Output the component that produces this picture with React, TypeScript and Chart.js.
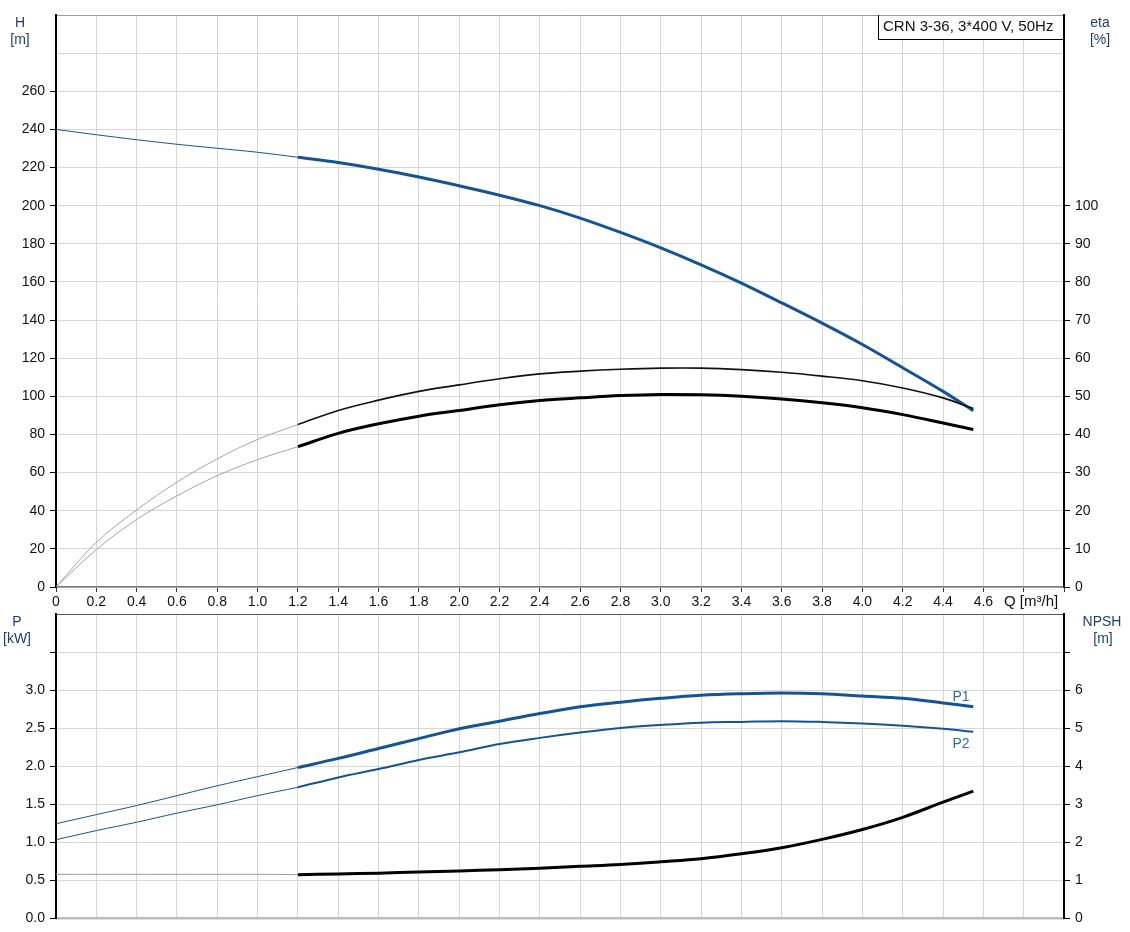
import React, { useEffect, useRef } from 'react';
import { Chart, registerables } from 'chart.js';

Chart.register(...registerables);

// ---------- data ----------
const Q_LOW = [0, 0.2, 0.4, 0.6, 0.8, 1.0, 1.2];
const Q_MAIN = [1.2, 1.4, 1.6, 1.8, 2.0, 2.2, 2.4, 2.6, 2.8, 3.0, 3.2, 3.4, 3.6, 3.8, 4.0, 4.2, 4.4, 4.55];

const H_LOW = [240, 237.2, 234.6, 232.2, 230.1, 228, 225.4];
const H_MAIN = [225.4, 222.6, 219.1, 215.0, 210.4, 205.5, 200, 193.5, 186, 177.9, 169, 159.4, 149, 138.4, 127.2, 115, 102.6, 92.5];

const ETA1_LOW = [0, 11.7, 20.2, 27.5, 33.6, 38.7, 42.6];
const ETA1_MAIN = [42.6, 46.3, 49.0, 51.3, 53.0, 54.6, 55.9, 56.6, 57.1, 57.4, 57.4, 57.0, 56.3, 55.3, 54.1, 52.2, 49.6, 46.8];

const ETA2_LOW = [0, 9.8, 17.7, 23.9, 29.2, 33.4, 36.8];
const ETA2_MAIN = [36.8, 40.3, 42.8, 44.8, 46.3, 47.8, 48.9, 49.6, 50.2, 50.5, 50.4, 50.0, 49.3, 48.3, 47.0, 45.2, 43.0, 41.3];

const P1_LOW = [1.24, 1.36, 1.48, 1.61, 1.74, 1.86, 1.98];
const P1_MAIN = [1.98, 2.10, 2.23, 2.36, 2.49, 2.59, 2.69, 2.78, 2.84, 2.89, 2.93, 2.95, 2.96, 2.95, 2.92, 2.89, 2.83, 2.78];

const P2_LOW = [1.03, 1.15, 1.26, 1.38, 1.49, 1.61, 1.72];
const P2_MAIN = [1.72, 1.85, 1.96, 2.08, 2.18, 2.29, 2.37, 2.44, 2.50, 2.54, 2.57, 2.58, 2.59, 2.58, 2.56, 2.53, 2.49, 2.45];

const NPSH_LOW = [1.15, 1.15, 1.15, 1.15, 1.15, 1.15, 1.14];
const NPSH_MAIN = [1.14, 1.16, 1.18, 1.21, 1.24, 1.27, 1.31, 1.36, 1.41, 1.48, 1.56, 1.69, 1.85, 2.07, 2.33, 2.65, 3.05, 3.34];

// ---------- ticks ----------
const Q_TICKS = [0, 0.2, 0.4, 0.6, 0.8, 1.0, 1.2, 1.4, 1.6, 1.8, 2.0, 2.2, 2.4, 2.6, 2.8, 3.0, 3.2, 3.4, 3.6, 3.8, 4.0, 4.2, 4.4, 4.6, 4.8, 5.0];
const Q_TICK_LABELS = ['0', '0.2', '0.4', '0.6', '0.8', '1.0', '1.2', '1.4', '1.6', '1.8', '2.0', '2.2', '2.4', '2.6', '2.8', '3.0', '3.2', '3.4', '3.6', '3.8', '4.0', '4.2', '4.4', '4.6', '', ''];
const Q_AXIS_TITLE = 'Q [m³/h]';

const H_TICKS = [0, 20, 40, 60, 80, 100, 120, 140, 160, 180, 200, 220, 240, 260, 280, 300];
const H_TICK_LABELS = ['0', '20', '40', '60', '80', '100', '120', '140', '160', '180', '200', '220', '240', '260', '', ''];
const ETA_TICKS = [0, 10, 20, 30, 40, 50, 60, 70, 80, 90, 100];
const ETA_TICK_LABELS = ['0', '10', '20', '30', '40', '50', '60', '70', '80', '90', '100'];
const P_TICKS = [0, 0.5, 1.0, 1.5, 2.0, 2.5, 3.0, 3.5, 4.0];
const P_TICK_LABELS = ['0.0', '0.5', '1.0', '1.5', '2.0', '2.5', '3.0', '', ''];
const NPSH_TICKS = [0, 1, 2, 3, 4, 5, 6, 7];
const NPSH_TICK_LABELS = ['0', '1', '2', '3', '4', '5', '6', ''];

const TITLE_TEXT = 'CRN 3-36, 3*400 V, 50Hz';

const FONT = "'Liberation Sans', Arial, sans-serif";
const BLUE = '#155494';
const GRID = '#d6d6d6';
const LABEL_BLUE = '#1e3f6e';

const pts = (xs: number[], ys: number[]) => xs.map((x, i) => ({ x, y: ys[i] }));

const line = (data: any, color: string, width: number, axis: string) => ({
  data,
  borderColor: color,
  borderWidth: width,
  pointRadius: 0,
  fill: false,
  tension: 0.35,
  yAxisID: axis,
});

const setTicks = (vals: number[]) => (scale: any) => {
  scale.ticks = vals.map((v) => ({ value: v }));
};
const labelFrom = (vals: number[], labels: string[]) => (v: any) => {
  const i = vals.findIndex((t) => Math.abs(t - v) < 1e-6);
  return i >= 0 ? labels[i] : '';
};

export default function App() {
  const topRef = useRef<HTMLCanvasElement>(null);
  const botRef = useRef<HTMLCanvasElement>(null);

  useEffect(() => {
    Chart.defaults.font.family = FONT;
    Chart.defaults.font.size = 14;
    Chart.defaults.color = '#111';

    const topTexts = {
      id: 'topTexts',
      afterDraw(chart: any) {
        const c = chart.ctx;
        c.save();
        c.font = `14px ${FONT}`;
        c.fillStyle = LABEL_BLUE;
        c.textAlign = 'center';
        c.textBaseline = 'middle';
        c.fillText('H', 20, 23);
        c.fillText('[m]', 20, 40);
        c.fillText('eta', 1100, 23);
        c.fillText('[%]', 1100, 40);
        // title box
        c.fillStyle = '#fff';
        c.fillRect(878, 16, 185, 23);
        c.strokeStyle = '#000';
        c.lineWidth = 1;
        c.beginPath();
        c.moveTo(878.5, 15);
        c.lineTo(878.5, 39.5);
        c.lineTo(1064, 39.5);
        c.stroke();
        c.fillStyle = '#111';
        c.textAlign = 'left';
        c.font = `15px ${FONT}`;
        c.fillText(TITLE_TEXT, 883, 27);
        // Q axis title
        c.fillText(Q_AXIS_TITLE, 1004, 602);
        c.restore();
      },
    };

    const botTexts = {
      id: 'botTexts',
      afterDraw(chart: any) {
        const c = chart.ctx;
        c.save();
        c.font = `14px ${FONT}`;
        c.fillStyle = LABEL_BLUE;
        c.textAlign = 'center';
        c.textBaseline = 'middle';
        c.fillText('P', 17, 22);
        c.fillText('[kW]', 17, 39);
        c.fillText('NPSH', 1102, 22);
        c.fillText('[m]', 1103, 39);
        c.fillStyle = '#2e6ca6';
        c.fillText('P1', 961, 97);
        c.fillText('P2', 961, 144);
        c.restore();
      },
    };

    const xScale = (showLabels: boolean, height: number, topChart: boolean) => ({
      type: 'linear',
      min: 0,
      max: 5.0,
      afterBuildTicks: setTicks(Q_TICKS),
      afterFit: (s: any) => {
        s.height = height;
      },
      ticks: {
        display: showLabels,
        autoSkip: false,
        maxRotation: 0,
        padding: 2,
        color: '#111',
        callback: labelFrom(Q_TICKS, Q_TICK_LABELS),
      },
      grid: {
        color: GRID,
        lineWidth: 1,
        drawTicks: showLabels,
        tickLength: 5,
        tickColor: '#333',
      },
      border: topChart ? { color: '#777', width: 1.5 } : { color: '#bdbdbd', width: 2.5 },
    });

    const yLeft = (min: number, max: number, vals: number[], labels: string[], topColor: string, lastTickVal: number) => ({
      type: 'linear',
      position: 'left',
      min,
      max,
      afterBuildTicks: setTicks(vals),
      afterFit: (s: any) => {
        s.width = 56;
      },
      ticks: { autoSkip: false, padding: 5, color: '#111', callback: labelFrom(vals, labels) },
      grid: {
        color: (ctx: any) => (ctx.tick && Math.abs(ctx.tick.value - max) < 1e-6 ? topColor : GRID),
        lineWidth: 1,
        tickLength: 6,
        tickColor: (ctx: any) => (ctx.tick && ctx.tick.value > lastTickVal + 1e-6 ? 'rgba(0,0,0,0)' : '#000'),
      },
      border: { color: '#000', width: 2 },
    });

    const yRight = (min: number, max: number, vals: number[], labels: string[]) => ({
      type: 'linear',
      position: 'right',
      min,
      max,
      afterBuildTicks: setTicks(vals),
      afterFit: (s: any) => {
        s.width = 66;
      },
      ticks: { autoSkip: false, padding: 5, color: '#111', callback: labelFrom(vals, labels) },
      grid: { drawOnChartArea: false, tickLength: 6, tickColor: '#000' },
      border: { color: '#000', width: 2 },
    });

    const top = new Chart(topRef.current as HTMLCanvasElement, {
      type: 'line',
      data: {
        datasets: [
          line(pts(Q_LOW, ETA1_LOW), '#a3a3a3', 1, 'eta'),
          line(pts(Q_LOW, ETA2_LOW), '#a3a3a3', 1, 'eta'),
          line(pts(Q_MAIN, ETA1_MAIN), '#111', 1.6, 'eta'),
          line(pts(Q_MAIN, ETA2_MAIN), '#000', 3, 'eta'),
          line(pts(Q_LOW, H_LOW), BLUE, 1, 'h'),
          line(pts(Q_MAIN, H_MAIN), BLUE, 3, 'h'),
        ] as any,
      },
      options: {
        animation: false,
        responsive: false,
        devicePixelRatio: 1,
        layout: { padding: { top: 15, left: 0, right: 0, bottom: 0 } },
        plugins: { legend: { display: false }, tooltip: { enabled: false } },
        scales: {
          x: xScale(true, 25, true),
          h: yLeft(0, 300, H_TICKS, H_TICK_LABELS, '#9a9a9a', 260),
          eta: yRight(0, 150, ETA_TICKS, ETA_TICK_LABELS),
        } as any,
      },
      plugins: [topTexts],
    });

    const bot = new Chart(botRef.current as HTMLCanvasElement, {
      type: 'line',
      data: {
        datasets: [
          line(pts(Q_LOW, NPSH_LOW), '#9a9a9a', 1, 'npsh'),
          line(pts(Q_MAIN, NPSH_MAIN), '#000', 3, 'npsh'),
          line(pts(Q_LOW, P2_LOW), BLUE, 1, 'p'),
          line(pts(Q_MAIN, P2_MAIN), BLUE, 2, 'p'),
          line(pts(Q_LOW, P1_LOW), BLUE, 1, 'p'),
          line(pts(Q_MAIN, P1_MAIN), BLUE, 3, 'p'),
        ] as any,
      },
      options: {
        animation: false,
        responsive: false,
        devicePixelRatio: 1,
        layout: { padding: { top: 14, left: 0, right: 0, bottom: 0 } },
        plugins: { legend: { display: false }, tooltip: { enabled: false } },
        scales: {
          x: xScale(false, 14, false),
          p: yLeft(0, 4, P_TICKS, P_TICK_LABELS, '#555', 3.5),
          npsh: yRight(0, 8, NPSH_TICKS, NPSH_TICK_LABELS),
        } as any,
      },
      plugins: [botTexts],
    });

    return () => {
      top.destroy();
      bot.destroy();
    };
  }, []);

  return (
    <div style={{ position: 'absolute', left: 0, top: 0, width: 1130, height: 932, background: '#fff' }}>
      <canvas ref={topRef} width={1130} height={612} style={{ position: 'absolute', left: 0, top: 0, width: 1130, height: 612 }} />
      <canvas ref={botRef} width={1130} height={332} style={{ position: 'absolute', left: 0, top: 600, width: 1130, height: 332 }} />
    </div>
  );
}
